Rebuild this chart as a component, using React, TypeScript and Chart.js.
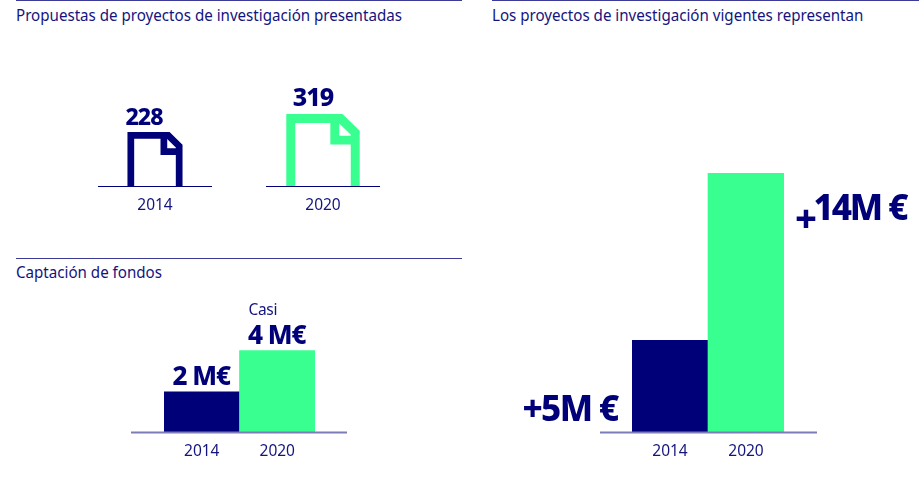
import React, { useEffect, useRef } from "react";
import { Chart, registerables } from "chart.js";

Chart.register(...registerables);

const NAVY = "#000078";
const GREEN = "#38FF90";
const TEXT = "#14147E";
const FONT = "'Noto Sans', sans-serif";

const years = ["2014", "2020"];
const proposals = [228, 319];
const proposalLabels = ["228", "319"];
const funds = [2, 4];
const fundLabels = ["2 M€", "4 M€"];
const fundNote = "Casi";
const projects = [5, 14];
const projectLabels = ["+5M €", "14M €"];
const projectPlus = "+";
const titles = [
  "Propuestas de proyectos de investigación presentadas",
  "Los proyectos de investigación vigentes representan",
  "Captación de fondos",
];

function text(ctx: any, s: string, x: number, y: number, size: number, weight: number, spacing: number, color = NAVY, align = "center") {
  ctx.save();
  ctx.font = `${weight} ${size}px ${FONT}`;
  ctx.fillStyle = color;
  ctx.textAlign = align;
  ctx.textBaseline = "alphabetic";
  ctx.letterSpacing = `${spacing}px`;
  ctx.fillText(s, x, y);
  ctx.restore();
}

function baseOptions(padding: any, yMin: number, yMax: number, axisHeight: number, tickPad: number): any {
  return {
    animation: false,
    responsive: false,
    layout: { padding },
    plugins: { legend: { display: false }, tooltip: { enabled: false }, title: { display: false } },
    scales: {
      x: {
        grid: { display: false },
        border: { display: false },
        afterFit: (s: any) => { s.height = axisHeight; },
        ticks: { color: TEXT, padding: tickPad, maxRotation: 0, font: { family: FONT, size: 15.5, weight: 400 } },
      },
      y: { display: false, min: yMin, max: yMax },
    },
  };
}

function axisLine(ctx: any, x0: number, x1: number, y: number, width: number, color: string) {
  ctx.save();
  ctx.strokeStyle = color;
  ctx.lineWidth = width;
  ctx.beginPath();
  ctx.moveTo(x0, y);
  ctx.lineTo(x1, y);
  ctx.stroke();
  ctx.restore();
}

const docPlugin = {
  id: "docs",
  afterDatasetsDraw(chart: any) {
    const ctx = chart.ctx;
    const bars = chart.getDatasetMeta(0).data;
    bars.forEach((bar: any, i: number) => {
      const h = bar.base - bar.y;
      const w = h * 1.02;
      const s = w * 0.122;
      const x = bar.x - w / 2;
      const top = bar.y;
      const color = i === 0 ? NAVY : GREEN;
      ctx.save();
      ctx.strokeStyle = color;
      ctx.lineWidth = s;
      ctx.lineJoin = "miter";
      ctx.beginPath();
      ctx.moveTo(x + s / 2, bar.base);
      ctx.lineTo(x + s / 2, top + s / 2);
      ctx.lineTo(x + w * 0.74, top + s / 2);
      ctx.lineTo(x + w - s / 2, top + h * 0.26);
      ctx.lineTo(x + w - s / 2, bar.base);
      ctx.stroke();
      ctx.beginPath();
      ctx.moveTo(x + w * 0.6 + s / 2, top + s / 2);
      ctx.lineTo(x + w * 0.6 + s / 2, top + h * 0.425 - s / 2);
      ctx.lineTo(x + w - s / 2, top + h * 0.425 - s / 2);
      ctx.stroke();
      ctx.restore();
      axisLine(ctx, bar.x - 57, bar.x + 57, bar.base + 0.5, 1, NAVY);
      text(ctx, proposalLabels[i], bar.x + (i === 0 ? -11 : -10), top - (i === 0 ? 7 : 8), i === 0 ? 23 : 25, 800, -1);
    });
  },
};

const fundPlugin = {
  id: "fundLabels",
  afterDatasetsDraw(chart: any) {
    const ctx = chart.ctx;
    const bars = chart.getDatasetMeta(0).data;
    axisLine(ctx, chart.chartArea.left - 33, chart.chartArea.right + 32, chart.chartArea.bottom - 0.5, 2, "#7C7CB8");
    bars.forEach((bar: any) => {
      text(ctx, fundLabels[bars.indexOf(bar)], bar.x - 0.5, bar.y - 7, 26, 800, -1);
    });
    const b = bars[1];
    text(ctx, fundNote, b.x - 14.5, b.y - 36, 15.5, 400, -0.3, TEXT);
  },
};

const projectPlugin = {
  id: "projectLabels",
  afterDatasetsDraw(chart: any) {
    const ctx = chart.ctx;
    const bars = chart.getDatasetMeta(0).data;
    axisLine(ctx, chart.chartArea.left - 32, chart.chartArea.right + 33, chart.chartArea.bottom - 0.5, 2, "#7C7CB8");
    const [a, b] = bars;
    text(ctx, projectLabels[0], a.x - 100, a.base - 12, 35, 800, -1.6);
    text(ctx, projectLabels[1], b.x + 114, b.y + 47, 35, 800, -2);
    text(ctx, projectPlus, b.x + 60, b.y + 59, 38, 800, 0);
  },
};

function useChart(ref: any, make: () => any) {
  useEffect(() => {
    const chart = new Chart(ref.current, make());
    return () => chart.destroy();
  }, []);
}

const panel = (left: number, top: number): any => ({ position: "absolute", left, top });
const rule = (left: number, top: number, width: number): any => ({
  position: "absolute", left, top, width, height: 1, background: "#3C3C98",
});
const title = (left: number, top: number): any => ({
  position: "absolute", left, top, font: `400 16px ${FONT}`, color: TEXT, whiteSpace: "nowrap", lineHeight: "20px",
  transform: "scaleX(0.945)", transformOrigin: "left center",
});

export default function App() {
  const a = useRef<HTMLCanvasElement>(null);
  const b = useRef<HTMLCanvasElement>(null);
  const c = useRef<HTMLCanvasElement>(null);

  useChart(a, () => ({
    type: "bar",
    data: { labels: years, datasets: [{ data: proposals, base: -45, backgroundColor: "rgba(0,0,0,0)", barPercentage: 1, categoryPercentage: 1 }] },
    options: baseOptions({ left: 71, right: 63, top: 38, bottom: 0 }, -45, 400, 44, 2),
    plugins: [docPlugin],
  }));
  useChart(b, () => ({
    type: "bar",
    data: { labels: years, datasets: [{ data: funds, backgroundColor: [NAVY, GREEN], barPercentage: 1, categoryPercentage: 1 }] },
    options: baseOptions({ left: 164, right: 155, top: 40, bottom: 0 }, 0, 5, 47, 1),
    plugins: [fundPlugin],
  }));
  useChart(c, () => ({
    type: "bar",
    data: { labels: years, datasets: [{ data: projects, backgroundColor: [NAVY, GREEN], barPercentage: 1, categoryPercentage: 1 }] },
    options: baseOptions({ left: 152, right: 135, top: 4.75, bottom: 0 }, 0, 15, 47, 1),
    plugins: [projectPlugin],
  }));

  return (
    <div style={{ position: "absolute", left: 0, top: 0, width: 919, height: 503, overflow: "hidden", background: "#fff" }}>
      <div style={rule(16, 0, 446)} />
      <div style={rule(492, 0, 427)} />
      <div style={rule(16, 258, 446)} />
      <div style={title(16, 5)}>{titles[0]}</div>
      <div style={title(492, 5)}>{titles[1]}</div>
      <div style={title(16, 262)}>{titles[2]}</div>
      <canvas ref={a} width={470} height={170} style={panel(0, 60)} />
      <canvas ref={b} width={470} height={190} style={panel(0, 290)} />
      <canvas ref={c} width={439} height={330} style={panel(480, 150)} />
    </div>
  );
}
